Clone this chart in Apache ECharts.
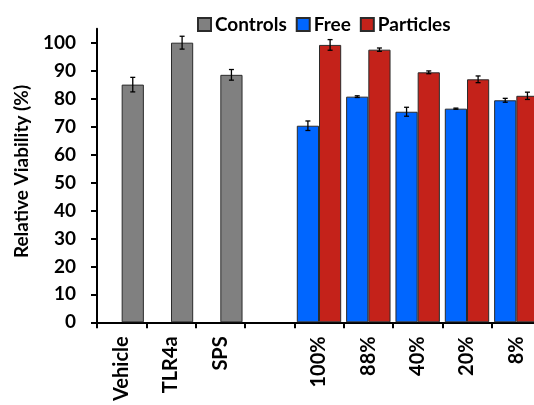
<!DOCTYPE html>
<html>
<head>
<meta charset="utf-8">
<style>
  html, body { margin: 0; padding: 0; background: #fff; }
  #chart { width: 534px; height: 405px; }
</style>
<script src="https://cdn.jsdelivr.net/npm/echarts@6/dist/echarts.min.js"></script>
</head>
<body>
<div id="chart"></div>
<script>
// Cell viability per treatment (mean and error)
const categories = ['Vehicle', 'TLR4a', 'SPS', '', '100%', '88%', '40%', '20%', '8%'];
const controls     = [85.0, 100.0, 88.5, null, null, null, null, null, null];
const controlsErr  = [2.6, 2.3, 1.9, null, null, null, null, null, null];
const free         = [null, null, null, null, 70.3, 80.7, 75.3, 76.4, 79.4];
const freeErr      = [null, null, null, null, 1.7, 0.3, 1.6, 0.2, 0.7];
const particles    = [null, null, null, null, 99.2, 97.5, 89.4, 86.9, 81.0];
const particlesErr = [null, null, null, null, 1.9, 0.6, 0.5, 1.2, 1.3];
const yTicks = [0, 10, 20, 30, 40, 50, 60, 70, 80, 90, 100];

const FONT = 'Lato';
const CAT_GAP = 0.10; // share of each category left empty between groups

// Whisker series: slot -1 = left bar of the pair, +1 = right bar
function errorSeries(name, means, errs, slot) {
  const data = [];
  means.forEach((m, i) => {
    if (m != null && errs[i] != null) data.push([i, m, errs[i]]);
  });
  return {
    type: 'custom',
    name: name + ' error',
    z: 10,
    silent: true,
    data: data,
    renderItem: function (params, api) {
      const idx = api.value(0);
      const mean = api.value(1);
      const err = api.value(2);
      const band = api.size([1, 0])[0];
      const dx = slot * band * (1 - CAT_GAP) / 4;
      const hi = api.coord([idx, mean + err]);
      const lo = api.coord([idx, mean - err]);
      const x = hi[0] + dx;
      const cap = 2.5;
      const style = { stroke: '#000', lineWidth: 1.3 };
      return {
        type: 'group',
        children: [
          { type: 'line', shape: { x1: x, y1: hi[1], x2: x, y2: lo[1] }, style: style },
          { type: 'line', shape: { x1: x - cap, y1: hi[1], x2: x + cap, y2: hi[1] }, style: style },
          { type: 'line', shape: { x1: x - cap, y1: lo[1], x2: x + cap, y2: lo[1] }, style: style }
        ]
      };
    }
  };
}

const chart = echarts.init(document.getElementById('chart'), null, { renderer: 'canvas' });

const barBorder = { borderColor: '#2b2b2b', borderWidth: 1 };

chart.setOption({
  animation: false,
  backgroundColor: '#fff',
  textStyle: { fontFamily: FONT },
  legend: {
    data: ['Controls', 'Free', 'Particles'],
    left: 192,
    top: 10,
    itemWidth: 13,
    itemHeight: 13,
    itemGap: 9,
    icon: 'rect',
    textStyle: { fontFamily: FONT, fontWeight: 'bold', fontSize: 19, color: '#000', padding: [0, 0, 0, -1] }
  },
  grid: {
    left: 97, width: 444, top: 28.7, height: 293.6,
    containLabel: false,
    outerBoundsMode: 'none'
  },
  xAxis: {
    type: 'category',
    data: categories,
    axisLine: { lineStyle: { color: '#000', width: 2 } },
    axisTick: { show: true, length: 6, lineStyle: { color: '#000', width: 2 } },
    axisLabel: {
      rotate: 90,
      margin: 14,
      interval: 0,
      fontFamily: FONT,
      fontWeight: 'bold',
      fontSize: 20,
      color: '#000'
    },
    splitLine: { show: false }
  },
  yAxis: {
    type: 'value',
    min: 0,
    max: 105,
    interval: 10,
    axisLine: { show: true, lineStyle: { color: '#000', width: 2 } },
    axisTick: { show: true, length: 6, customValues: yTicks, lineStyle: { color: '#000', width: 2 } },
    axisLabel: {
      customValues: yTicks,
      margin: 21,
      fontFamily: FONT,
      fontWeight: 'bold',
      fontSize: 19,
      color: '#000'
    },
    splitLine: { show: false }
  },
  graphic: [{
    type: 'text',
    x: 21.5,
    y: 171.5,
    rotation: Math.PI / 2,
    style: {
      text: 'Relative Viability (%)',
      fontFamily: FONT,
      fontWeight: 'bold',
      fontSize: 19,
      fill: '#000',
      align: 'center',
      verticalAlign: 'middle'
    }
  }],
  series: [
    {
      name: 'Free',
      type: 'bar',
      data: free,
      barGap: '0%',
      barCategoryGap: (CAT_GAP * 100) + '%',
      itemStyle: Object.assign({ color: '#0066ff' }, barBorder)
    },
    {
      name: 'Controls',
      type: 'bar',
      stack: 'pair',
      data: controls,
      barGap: '0%',
      barCategoryGap: (CAT_GAP * 100) + '%',
      itemStyle: Object.assign({ color: '#808080' }, barBorder)
    },
    {
      name: 'Particles',
      type: 'bar',
      stack: 'pair',
      data: particles,
      barGap: '0%',
      barCategoryGap: (CAT_GAP * 100) + '%',
      itemStyle: Object.assign({ color: '#c4221a' }, barBorder)
    },
    errorSeries('Free', free, freeErr, -1),
    errorSeries('Controls', controls, controlsErr, 1),
    errorSeries('Particles', particles, particlesErr, 1)
  ]
});
</script>
</body>
</html>
